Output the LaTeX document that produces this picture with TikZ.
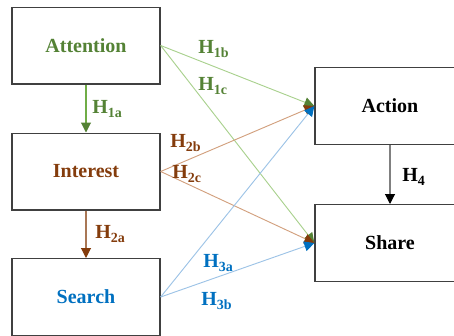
\documentclass[tikz,border=0pt]{standalone}
\usepackage{fontspec}
\setmainfont{Liberation Serif}
\usetikzlibrary{arrows.meta}
\definecolor{gtxt}{HTML}{548235}
\definecolor{gline}{HTML}{A9D18E}
\definecolor{gmid}{HTML}{70AD47}
\definecolor{btxt}{HTML}{843C0C}
\definecolor{bline}{HTML}{D2A07E}
\definecolor{ltxt}{HTML}{0070C0}
\definecolor{lline}{HTML}{9DC3E6}
\definecolor{boxc}{HTML}{404040}
\newcommand{\hlab}[1]{H\raisebox{-3pt}{\fontsize{10.5}{12}\selectfont #1}}
\begin{document}
\begin{tikzpicture}[x=0.75pt,y=-0.75pt,
  box/.style={draw=boxc,line width=1pt,minimum width=111pt,minimum height=57.5pt,inner sep=0pt,font=\fontsize{15}{18}\selectfont\bfseries},
  lab/.style={anchor=base west,inner sep=0pt,font=\fontsize{15}{18}\selectfont\bfseries},
  conn/.style={line width=0.7pt},
  tipg/.style={-{Triangle[length=7.5pt,width=7.5pt,color=gtxt]}},
  tipb/.style={-{Triangle[length=7.5pt,width=7.5pt,color=btxt]}},
  tipl/.style={-{Triangle[length=7.5pt,width=7.5pt,color=ltxt]}},
  tipk/.style={-{Triangle[length=7.5pt,width=7.5pt,color=black]}}]
\useasboundingbox (0,0) rectangle (454,336);
\node[box,text=gtxt] (att) at (86,45.5) {Attention};
\node[box,text=btxt] (int) at (86,171.5) {Interest};
\node[box,text=ltxt] (sea) at (86,297) {Search};
\node[box,minimum width=112.5pt] (act) at (390,106) {Action};
\node[box,minimum width=112.5pt] (sha) at (390,243) {Share};
% vertical
\draw[conn,gmid,tipg,line width=0.8pt] (att.south) -- (int.north);
\draw[conn,btxt!70,tipb,line width=0.8pt] (int.south) -- (sea.north);
\draw[conn,gray,tipk,line width=0.8pt] (act.south) -- (sha.north);
% diagonals
\draw[conn,gline,tipg] (att.east) -- (act.west);
\draw[conn,gline,tipg] (att.east) -- (sha.west);
\draw[conn,bline,tipb] (int.east) -- (act.west);
\draw[conn,bline,tipb] (int.east) -- (sha.west);
\draw[conn,lline,tipl] (sea.east) -- (act.west);
\draw[conn,lline,tipl] (sea.east) -- (sha.west);
% labels
\node[lab,text=gtxt] (h1b) at (198,53) {\hlab{1b}};
\node[lab,text=gtxt] (h1c) at (198,90) {\hlab{1c}};
\node[lab,text=gtxt] (h1a) at (92,113) {\hlab{1a}};
\node[lab,text=btxt] (h2b) at (170,147) {\hlab{2b}};
\node[lab,text=btxt] (h2c) at (172,178) {\hlab{2c}};
\node[lab,text=btxt] (h2a) at (95,238) {\hlab{2a}};
\node[lab,text=ltxt] (h3a) at (203,267) {\hlab{3a}};
\node[lab,text=ltxt] (h3b) at (201,305) {\hlab{3b}};
\node[lab] (h4) at (402,181) {\hlab{4}};
\end{tikzpicture}
\end{document}
